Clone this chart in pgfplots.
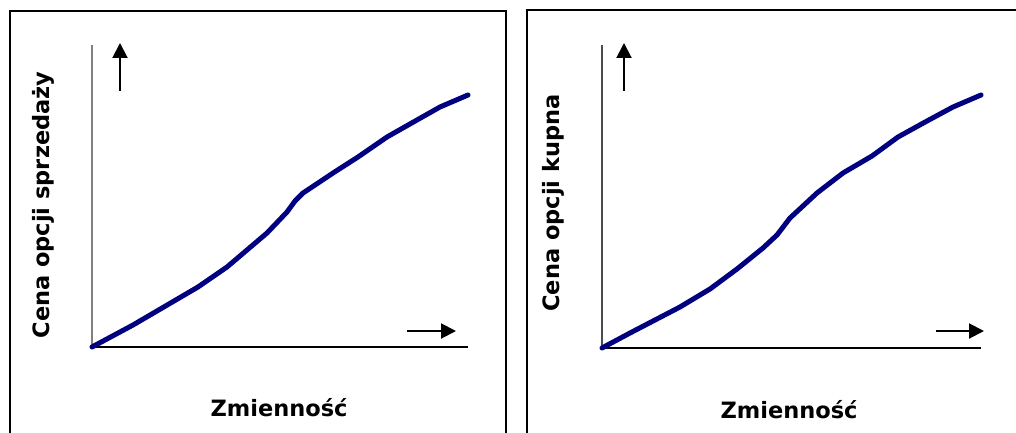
\documentclass[border=0pt]{standalone}
\usepackage{pgfplots}
\pgfplotsset{compat=1.18}
\usepackage{fontspec}
\setmainfont{DejaVu Sans}
\usetikzlibrary{arrows.meta}
\definecolor{navy}{RGB}{0,0,128}
\begin{document}
\begin{tikzpicture}[x=1pt,y=1pt]
\useasboundingbox (0,0) rectangle (1016,432);
% frames
\draw[line width=2.5pt] (10,421) rectangle (506,-20);
\draw[line width=2.5pt] (527,422) rectangle (1040,-20);
% left axis
\begin{axis}[at={(92pt,85pt)}, anchor=origin, scale only axis, width=376pt, height=302pt,
  xmin=0, xmax=376, ymin=0, ymax=302,
  axis x line=bottom, axis y line=left,
  x axis line style={-, black, line width=1.2pt},
  y axis line style={-, gray, line width=1.2pt},
  xtick=\empty, ytick=\empty, clip=false]
\addplot[navy, line width=5pt, line join=round, line cap=round] coordinates {
(0,0) (41,22) (106,60) (135,80) (175,114) (195,135) (203,146) (211,154) (241,174) (266,190) (295,210) (325,227) (348,240) (376,252)};
\draw[line width=2pt, -{Triangle[length=15pt,width=15pt]}] (axis cs:28,256) -- (axis cs:28,304);
\draw[line width=2pt, -{Triangle[length=15pt,width=15pt]}] (axis cs:315,16) -- (axis cs:364,16);
\end{axis}
% right axis
\begin{axis}[at={(602pt,84pt)}, anchor=origin, scale only axis, width=379pt, height=303pt,
  xmin=0, xmax=379, ymin=0, ymax=303,
  axis x line=bottom, axis y line=left,
  x axis line style={-, black, line width=1.2pt},
  y axis line style={-, black!70, line width=1.2pt},
  xtick=\empty, ytick=\empty, clip=false]
\addplot[navy, line width=5pt, line join=round, line cap=round] coordinates {
(0,0) (28,15) (78,41) (108,59) (135,79) (161,100) (175,113) (188,130) (215,155) (241,175) (270,192) (296,211) (325,227) (351,241) (379,253)};
\draw[line width=2pt, -{Triangle[length=15pt,width=15pt]}] (axis cs:22,257) -- (axis cs:22,305);
\draw[line width=2pt, -{Triangle[length=15pt,width=15pt]}] (axis cs:334,17) -- (axis cs:382,17);
\end{axis}
% labels
\node[font=\fontsize{22.5}{26}\selectfont\bfseries, rotate=90] at (43,227) {Cena opcji sprzedaży};
\node[font=\fontsize{22.5}{26}\selectfont\bfseries] at (279,24) {Zmienność};
\node[font=\fontsize{22.5}{26}\selectfont\bfseries, rotate=90] at (553,229) {Cena opcji kupna};
\node[font=\fontsize{22.5}{26}\selectfont\bfseries] at (789,22) {Zmienność};
\end{tikzpicture}
\end{document}
